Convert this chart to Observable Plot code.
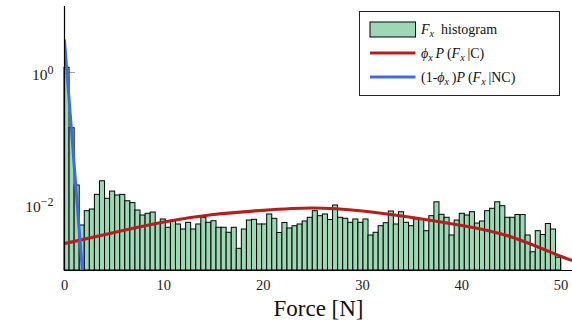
<!DOCTYPE html>
<html><head><meta charset="utf-8">
<script src="https://cdn.jsdelivr.net/npm/d3@7"></script>
<script src="https://cdn.jsdelivr.net/npm/@observablehq/plot@0.6"></script>
<style>body{margin:0;background:#fff}#chart{width:572px;height:328px}</style>
</head><body><div id="chart"></div>
<script>
// Histogram: 98 equal bins from binStart to binEnd (density, log axis)
const binStart = 0, binEnd = 50;
const histDensity = [
  1.18, 0.143, 0.0194, 0.00481, 0.00792, 0.00840, 0.0140, 0.0225, 0.0122, 0.0157,
  0.0137, 0.0140, 0.0112, 0.0105, 0.00811, 0.00681, 0.00723, 0.00756, 0.00510, 0.00593,
  0.00444, 0.00572, 0.00498, 0.00418, 0.00528, 0.00418, 0.00498, 0.00629, 0.00528, 0.00558,
  0.00444, 0.00444, 0.00373, 0.00444, 0.00213, 0.00418, 0.00572, 0.00586, 0.00498, 0.00498,
  0.00706, 0.00607, 0.00370, 0.00524, 0.00433, 0.00469, 0.00498, 0.00553, 0.00629, 0.00792,
  0.00665, 0.00706, 0.00582, 0.00966, 0.00629, 0.00607, 0.00528, 0.00593, 0.00528, 0.00593,
  0.00339, 0.00373, 0.00469, 0.00521, 0.00783, 0.00498, 0.00764, 0.00528, 0.00469, 0.00593,
  0.00593, 0.00394, 0.00665, 0.0108, 0.00698, 0.00629, 0.00339, 0.00572, 0.00723, 0.00681,
  0.00764, 0.00515, 0.00553, 0.00792, 0.00861, 0.0108, 0.00942, 0.00629, 0.00629, 0.00693,
  0.00693, 0.00339, 0.00189, 0.00394, 0.00345, 0.00507, 0.00418, 0.00156
];
// phi_x P(F_x | C)
const redX = [0, 5, 10, 15, 20, 25, 30, 35, 40, 45, 50, 51.2];
const redY = [0.00256, 0.00376, 0.00543, 0.00705, 0.00817, 0.00885, 0.00798, 0.00635, 0.00481, 0.00322, 0.00163, 0.00145];
// (1-phi_x) P(F_x | NC)
const blueX = [0, 0.5, 1, 1.5, 2];
const blueY = [3.05, 0.329, 0.0354, 0.00381, 0.00041];

const xTicks = [0, 10, 20, 30, 40, 50];
const yTicks = [1, 0.01];
const yTickExponents = ["0", "\u22122"];
const xLabel = "Force [N]";

// legend entries as text segments (i: italic, s: subscript)
const legendEntries = [
  {kind: "rect", color: "#9cd8b4", segs: [{t: "F", i: 1}, {t: "x", i: 1, s: 1}, {t: "\u2002histogram"}]},
  {kind: "line", color: "#b3201f", segs: [{t: "\u03d5", i: 1}, {t: "x", i: 1, s: 1}, {t: "\u2009"}, {t: "P", i: 1}, {t: "\u2009("}, {t: "F", i: 1}, {t: "x", i: 1, s: 1}, {t: "\u2009|C)"}]},
  {kind: "line", color: "#4169e1", segs: [{t: "(1-"}, {t: "\u03d5", i: 1}, {t: "x", i: 1, s: 1}, {t: "\u2009)"}, {t: "P", i: 1}, {t: "\u2009("}, {t: "F", i: 1}, {t: "x", i: 1, s: 1}, {t: "\u2009|NC)"}]}
];

const binW = (binEnd - binStart) / histDensity.length;
const bins = histDensity.map((v, i) => ({x1: binStart + i * binW, x2: binStart + (i + 1) * binW, y: v}));
const red = redX.map((x, i) => ({x, y: redY[i]}));
const blue = blueX.map((x, i) => ({x, y: blueY[i]}));

const font = "'Liberation Serif', 'DejaVu Serif', serif";

const plot = Plot.plot({
  width: 572, height: 328,
  marginLeft: 64, marginRight: 0, marginTop: 6, marginBottom: 58,
  x: {domain: [0, 51.15]},
  y: {type: "log", domain: [1e-3, 10]},
  style: {fontFamily: font, background: "white"},
  marks: [
    Plot.ruleX(xTicks, {x: d => d, insetTop: 253, stroke: "#888", strokeWidth: 0.8}),
    Plot.ruleY(yTicks, {y: d => d, insetRight: 497, stroke: "#888", strokeWidth: 0.8}),
    Plot.rect(bins, {x1: "x1", x2: "x2", y1: 1e-3, y2: "y", fill: "#9cd8b4", stroke: "black", strokeWidth: 1}),
    Plot.line(red, {x: "x", y: "y", stroke: "#b3201f", strokeWidth: 3.2, curve: "natural", clip: true}),
    Plot.line(blue, {x: "x", y: "y", stroke: "#4169e1", strokeWidth: 3, clip: true}),
    Plot.ruleX([0], {stroke: "black", strokeWidth: 1.2}),
    Plot.ruleY([1e-3], {stroke: "black", strokeWidth: 1.2}),
    Plot.axisX({ticks: xTicks, tickSize: 0, tickPadding: 9, fontSize: 14.5, color: "#222", label: null}),
    Plot.axisY({ticks: yTicks, tickSize: 0, tickPadding: 11, fontSize: 15.5, color: "#222", label: null, dy: 3,
      tickFormat: d => yTickExponents[yTicks.indexOf(d)]}),
    Plot.text([xLabel], {text: d => d, frameAnchor: "bottom", dy: 45, fontSize: 23, fill: "#111"})
  ]
});

const svg = d3.select(plot);
// superscript exponents on y tick labels
svg.selectAll('g[aria-label="y-axis tick label"] text').each(function () {
  const exp = this.textContent;
  const t = d3.select(this);
  t.text(null);
  t.append("tspan").text("10");
  t.append("tspan").attr("dy", "-0.5em").attr("font-size", "0.78em").text(exp);
});

// legend
const lg = svg.append("g").attr("font-family", font).attr("font-size", 14).attr("text-anchor", "start");
lg.append("rect").attr("x", 359.5).attr("y", 11.5).attr("width", 200).attr("height", 84)
  .attr("fill", "white").attr("stroke", "#222").attr("stroke-width", 1);
const rowY = [29.5, 53, 77];
legendEntries.forEach((e, k) => {
  const cy = rowY[k];
  if (e.kind === "rect") {
    lg.append("rect").attr("x", 370).attr("y", cy - 7.5).attr("width", 45.5).attr("height", 15)
      .attr("fill", e.color).attr("stroke", "black").attr("stroke-width", 1);
  } else {
    lg.append("line").attr("x1", 370).attr("x2", 415.5).attr("y1", cy).attr("y2", cy)
      .attr("stroke", e.color).attr("stroke-width", 3);
  }
  const t = lg.append("text").attr("x", 421).attr("y", cy + 4.5).attr("fill", "#111").attr("text-anchor", "start");
  let shifted = false;
  e.segs.forEach(s => {
    const ts = t.append("tspan").text(s.t);
    if (s.i) ts.attr("font-style", "italic");
    if (s.s) { ts.attr("font-size", "0.72em").attr("dy", 3); shifted = true; }
    else if (shifted) { ts.attr("dy", -3); shifted = false; }
  });
});

document.getElementById("chart").appendChild(plot);
</script>
</body></html>
